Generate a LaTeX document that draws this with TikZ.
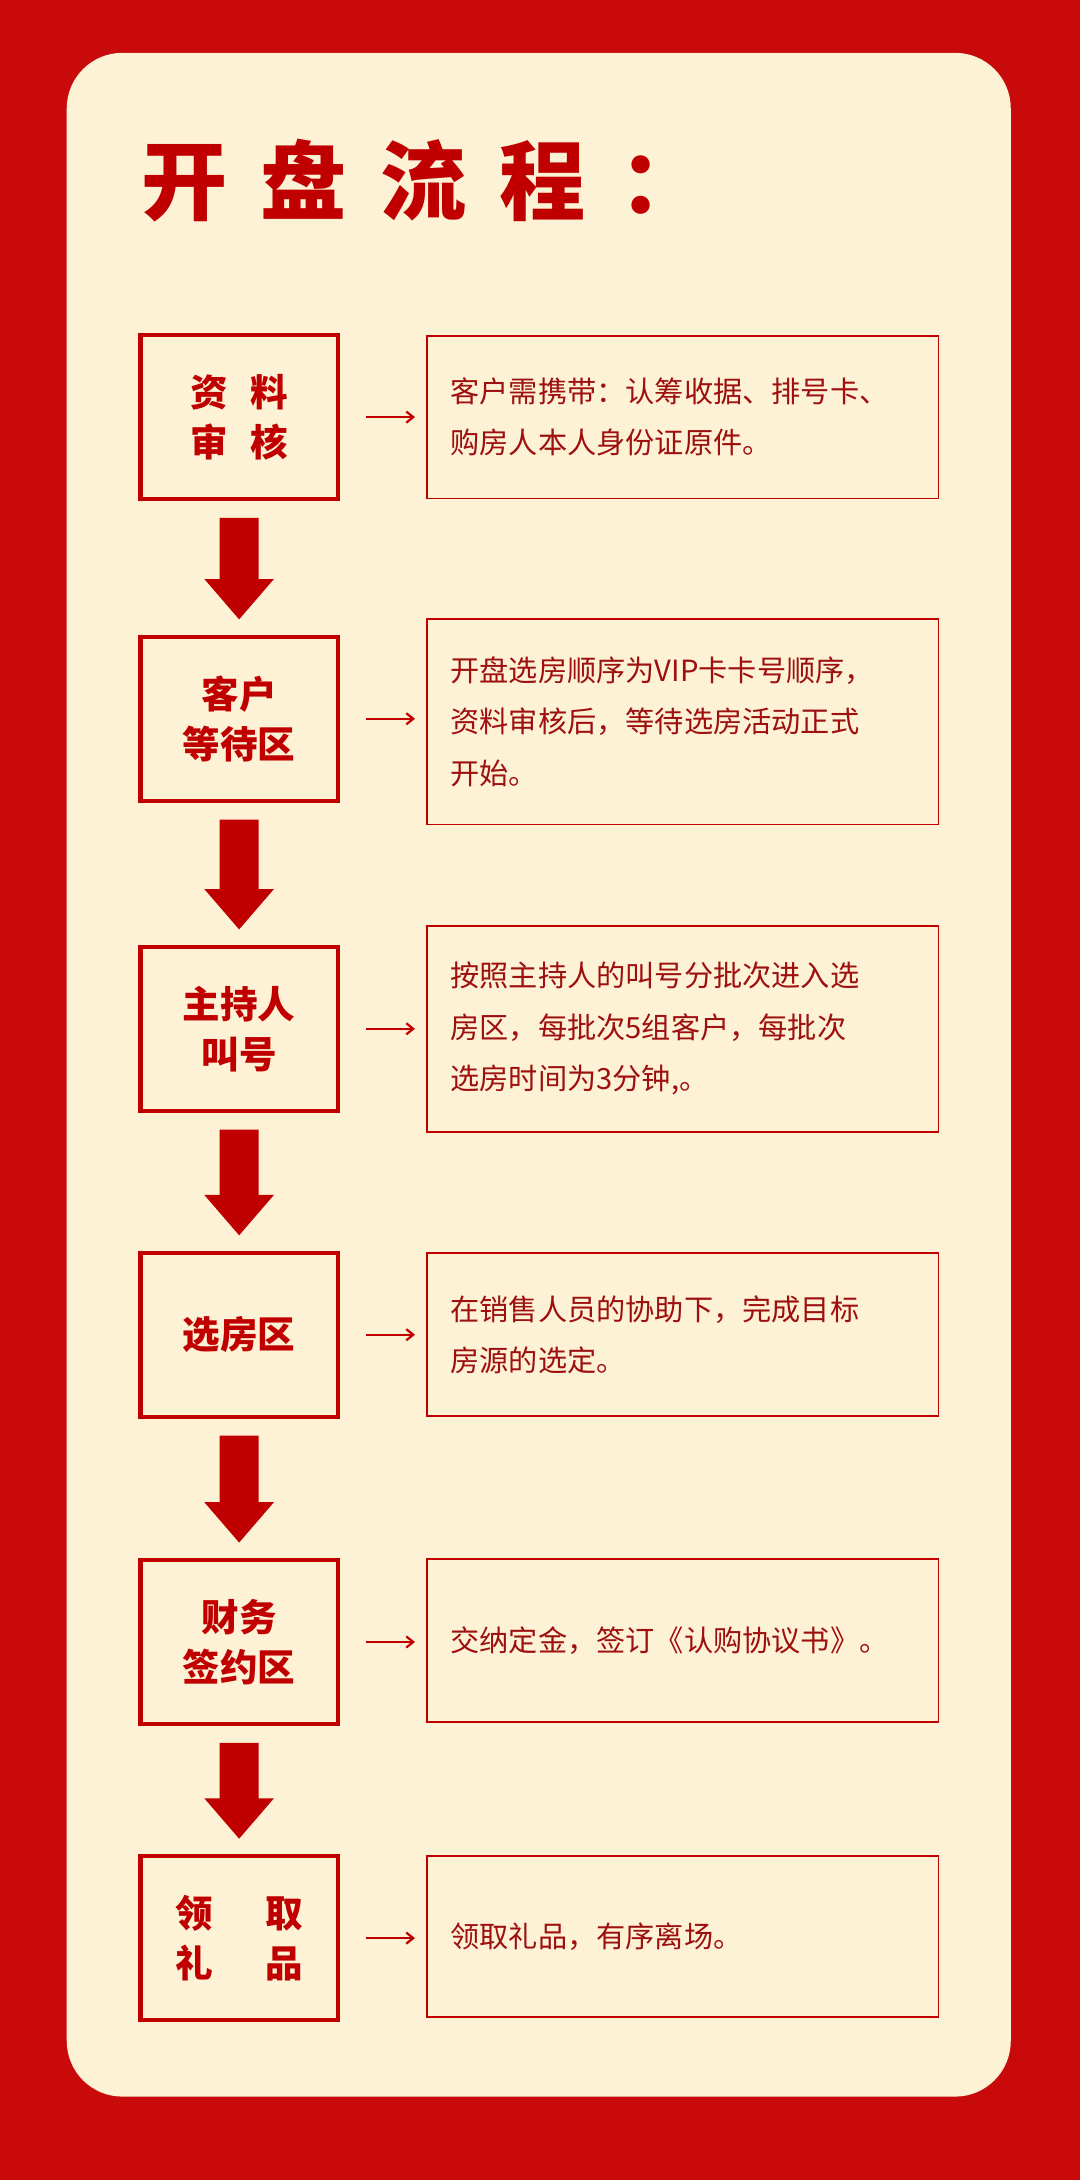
\documentclass[tikz,border=0pt]{standalone}
\usepackage{fontspec}
\setmainfont{Noto Sans CJK SC}
\usetikzlibrary{calc,arrows.meta}
\begin{document}
\begin{tikzpicture}[x=1pt,y=-1pt,
  lbox/.style={draw=myred,line width=3pt,minimum width=142pt,align=center,font=\fontsize{27}{36}\selectfont\bfseries,text=myred,inner sep=0pt},
  rbox/.style={draw=myred,line width=1.3pt,minimum width=368pt,text width=334pt,align=left,font=\fontsize{21}{37}\selectfont,text=txtred,inner sep=0pt},
  sarr/.style={myred,line width=1.6pt,-{Straight Barb[length=5pt,width=8pt]}}]
\definecolor{myred}{HTML}{C00000}
\definecolor{txtred}{HTML}{9E1010}
\definecolor{bgred}{HTML}{C80A0A}
\definecolor{cream}{HTML}{FDF2D5}
\useasboundingbox (0,0) rectangle (777,1568);
\fill[bgred] (0,0) rectangle (777,1568);
\fill[cream,rounded corners=40pt] (48,38) rectangle (727,1508);
\node[anchor=west,text=myred,font=\fontsize{62}{70}\selectfont\bfseries] (title) at (98,130) {开\hspace{24pt}盘\hspace{24pt}流\hspace{24pt}程\hspace{24pt}：};
\def\L#1#2#3{\node[lbox,minimum height=118pt] (l#1) at (172,#2) {#3};}
\L{1}{300}{资\hspace{0.6em}料\\审\hspace{0.6em}核}
\L{2}{517}{客户\\等待区}
\L{3}{740}{主持人\\叫号}
\L{4}{960}{选房区}
\L{5}{1181}{财务\\签约区}
\L{6}{1394}{领\hspace{1.4em}取\\礼\hspace{1.4em}品}
\node[rbox,minimum height=117pt] (r1) at (491,300) {客户需携带：认筹收据、排号卡、\\购房人本人身份证原件。};
\node[rbox,minimum height=148pt] (r2) at (491,519) {开盘选房顺序为VIP卡卡号顺序，\\资料审核后，等待选房活动正式\\开始。};
\node[rbox,minimum height=148pt] (r3) at (491,740) {按照主持人的叫号分批次进入选\\房区，每批次5组客户，每批次\\选房时间为3分钟,。};
\node[rbox,minimum height=117pt] (r4) at (491,960) {在销售人员的协助下，完成目标\\房源的选定。};
\node[rbox,minimum height=117pt] (r5) at (491,1180) {交纳定金，签订《认购协议书》。};
\node[rbox,minimum height=116pt] (r6) at (491,1393) {领取礼品，有序离场。};
\foreach \i in {1,...,6}{
  \draw[sarr] ($(l\i.east)+(19,0)$) -- ($(l\i.east)+(54,0)$);
}
\foreach \i/\j in {1/2,2/3,3/4,4/5,5/6}{
  \path (l\i.south) ++(0,12) coordinate (s\i);
  \path (l\j.north) ++(0,-11) coordinate (e\i);
  \fill[myred] ($(s\i)+(-14,0)$) -- ($(s\i)+(14,0)$) -- ($(e\i)+(14,-29)$) -- ($(e\i)+(25,-29)$) -- (e\i) -- ($(e\i)+(-25,-29)$) -- ($(e\i)+(-14,-29)$) -- cycle;
}
\end{tikzpicture}
\end{document}
